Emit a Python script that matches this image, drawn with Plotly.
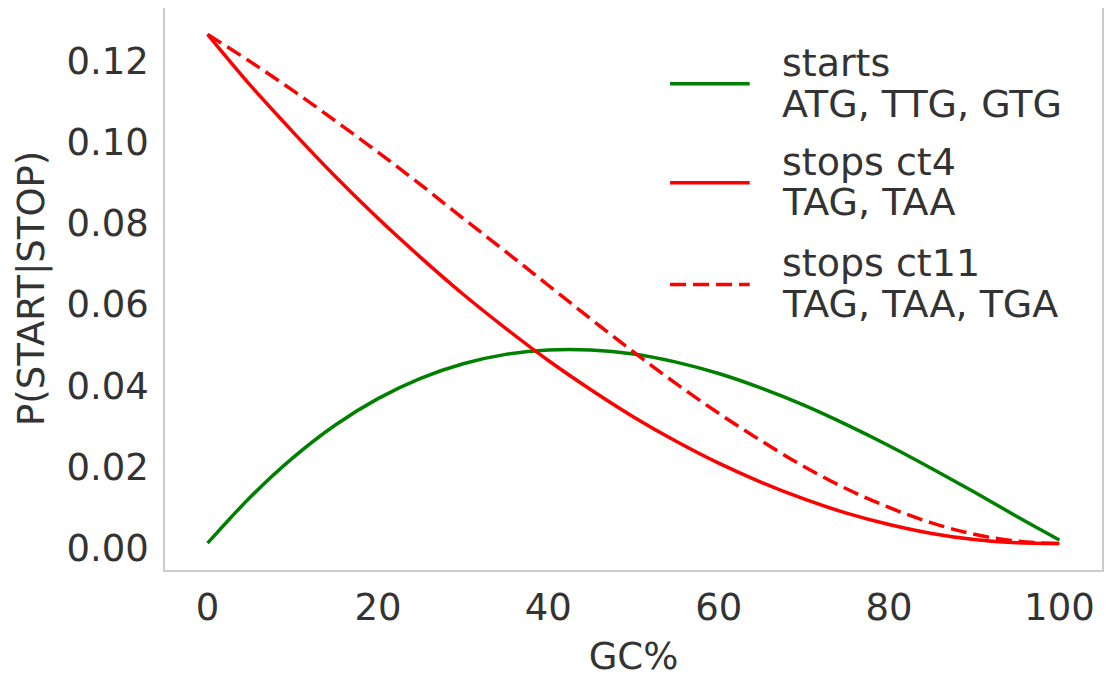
import plotly.graph_objects as go

gc = [0, 5, 10, 15, 20, 25, 30, 35, 40, 45, 50, 55, 60, 65, 70, 75, 80, 85, 90, 95, 100]
starts = [0.0012, 0.0125, 0.0222, 0.0303, 0.0368, 0.0418, 0.0454, 0.0477, 0.0488, 0.0488,
          0.0478, 0.0458, 0.0430, 0.0394, 0.0352, 0.0304, 0.0252, 0.0196, 0.0138, 0.0078, 0.0020]
stops_ct4 = [0.1265, 0.1140, 0.1025, 0.0915, 0.0812, 0.0716, 0.0625, 0.0541, 0.0462, 0.0390,
             0.0323, 0.0263, 0.0209, 0.0162, 0.0121, 0.0086, 0.0058, 0.0036, 0.0021, 0.0013, 0.0011]
stops_ct11 = [0.1265, 0.1198, 0.1127, 0.1052, 0.0975, 0.0895, 0.0812, 0.0730, 0.0647, 0.0564,
              0.0483, 0.0405, 0.0332, 0.0264, 0.0201, 0.0146, 0.0100, 0.0062, 0.0034, 0.0017, 0.0011]

names = ["starts", "stops ct4", "stops ct11"]
codons = ["ATG, TTG, GTG", "TAG, TAA", "TAG, TAA, TGA"]
colors = ["#008000", "#ff0000", "#ff0000"]
dashes = ["solid", "solid", "16px,7px"]
series = [starts, stops_ct4, stops_ct11]

FONT = "DejaVu Sans"
TXT = "#333333"
FS = 37
LFS = 38

fig = go.Figure()
for name, cod, ys, c, d in zip(names, codons, series, colors, dashes):
    fig.add_trace(go.Scatter(x=gc, y=ys, mode="lines", name=name + " " + cod,
                             line=dict(color=c, width=3.5, dash=d, shape="spline"),
                             showlegend=False))

# manual legend (line samples + two-line labels)
leg_line = [0.865, 0.689, 0.508]
leg_t1 = [0.902, 0.726, 0.547]
leg_t2 = [0.829, 0.654, 0.474]
for name, cod, c, d, yl, y1, y2 in zip(names, codons, colors, dashes, leg_line, leg_t1, leg_t2):
    fig.add_shape(type="line", xref="paper", yref="paper",
                  x0=0.539, x1=0.624, y0=yl, y1=yl,
                  line=dict(color=c, width=3.5, dash=d))
    for txt, yy in ((name, y1), (cod, y2)):
        fig.add_annotation(xref="paper", yref="paper", x=0.656, y=yy,
                           xanchor="left", yanchor="middle", showarrow=False,
                           text=txt, align="left",
                           font=dict(family=FONT, size=LFS, color=TXT))

# y-axis title
fig.add_annotation(xref="paper", yref="paper", x=-0.143, y=0.5,
                   xanchor="center", yanchor="middle", showarrow=False,
                   text="P(START|STOP)", textangle=-90,
                   font=dict(family=FONT, size=FS, color=TXT))

fig.update_layout(
    width=1104, height=671,
    margin=dict(l=157, r=10, t=0, b=109),
    paper_bgcolor="white", plot_bgcolor="white",
    font=dict(family=FONT, size=FS, color=TXT),
)
fig.update_xaxes(range=[-5, 105], tickvals=[0, 20, 40, 60, 80, 100],
                 showgrid=False, zeroline=False, showline=True, mirror=True,
                 linecolor="#cccccc", linewidth=1.5, ticks="", automargin=False,
                 ticklabelstandoff=4,
                 title=dict(text="GC%", standoff=15, font=dict(size=FS)),
                 tickfont=dict(size=FS))
fig.update_yaxes(range=[-0.0054, 0.133], tickvals=[0, 0.02, 0.04, 0.06, 0.08, 0.10, 0.12],
                 tickformat=".2f",
                 showgrid=False, zeroline=False, showline=True, mirror=True,
                 linecolor="#cccccc", linewidth=1.5, ticks="", automargin=False,
                 ticklabelstandoff=7,
                 tickfont=dict(size=FS))

fig.write_html("out.html")
